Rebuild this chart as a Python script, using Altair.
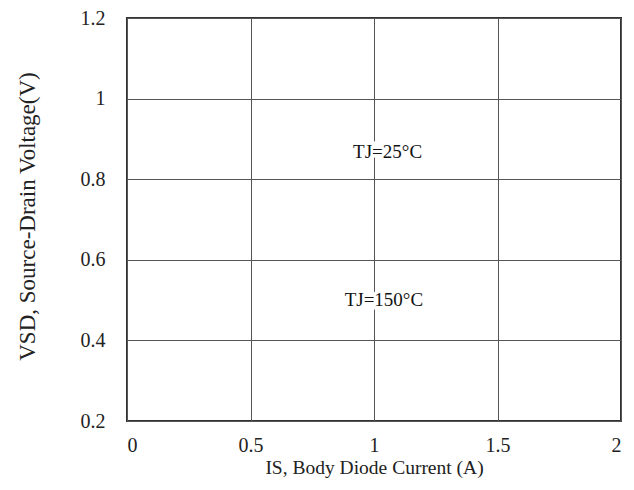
import altair as alt
import pandas as pd

x_ticks = [0, 0.5, 1, 1.5, 2]
y_ticks = [0.2, 0.4, 0.6, 0.8, 1.0, 1.2]
label_text = ["TJ=25°C", "TJ=150°C"]
label_x = [1.055, 1.04]
label_y = [0.867, 0.5]

df = pd.DataFrame({"x": label_x, "y": label_y, "t": label_text})
FONT = "Liberation Serif"

xenc = alt.X(
    "x:Q",
    scale=alt.Scale(domain=[0, 2], nice=False, zero=False),
    axis=alt.Axis(
        values=x_ticks, format="~g", title="IS, Body Diode Current (A)",
        labelPadding=14, titlePadding=3, titleFontSize=19.5,
    ),
)
yenc = alt.Y(
    "y:Q",
    scale=alt.Scale(domain=[0.2, 1.2], nice=False, zero=False),
    axis=alt.Axis(
        values=y_ticks, format="~g", title="VSD, Source-Drain Voltage(V)",
        labelPadding=22, titleX=-93, titleY=198, titleBaseline="alphabetic",
        titleFontSize=23,
    ),
)

base = alt.Chart(df).encode(x=xenc, y=yenc, text="t:N")
halo = base.mark_text(font=FONT, fontSize=19, stroke="white", strokeWidth=7, color="white")
txt = base.mark_text(font=FONT, fontSize=19, color="#111")

chart = (
    alt.layer(halo, txt)
    .properties(
        width=494, height=403,
        autosize=alt.AutoSizeParams(type="none"),
        padding={"left": 119, "top": 10, "right": 5, "bottom": 60},
        background="white",
    )
    .configure_view(stroke="#333", strokeWidth=2)
    .configure_axis(
        grid=True, gridColor="#555", gridWidth=1, gridOpacity=1,
        domain=False, ticks=False,
        labelFont=FONT, labelFontSize=20, labelColor="#222",
        titleFont=FONT, titleFontWeight="normal", titleColor="#222",
    )
)

chart.save("out.html", embed_options={"renderer": "svg", "actions": False})
